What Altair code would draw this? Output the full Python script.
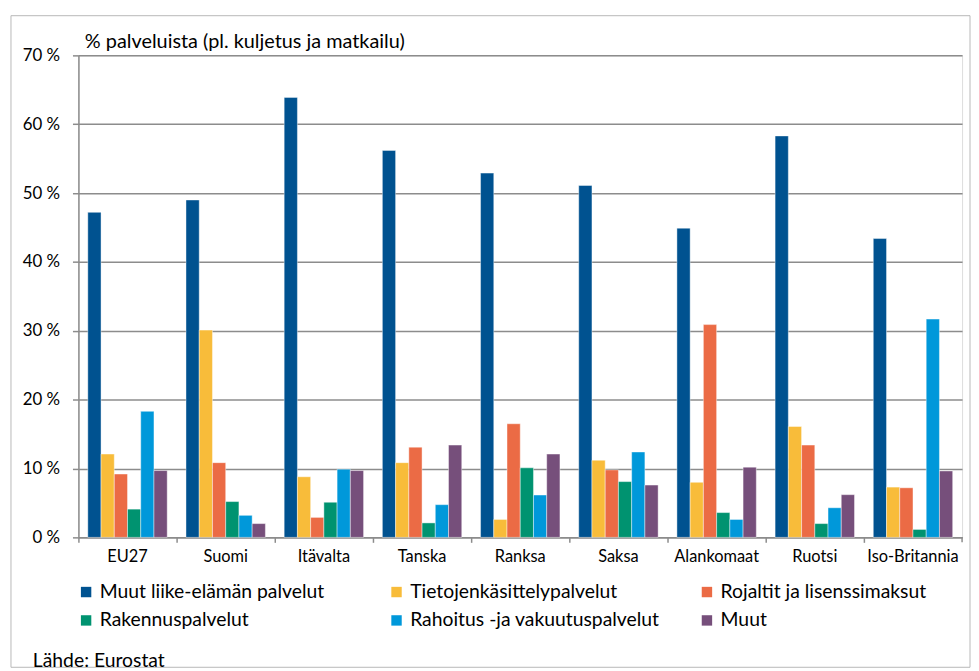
import altair as alt
import pandas as pd

countries = ["EU27", "Suomi", "Itävalta", "Tanska", "Ranksa", "Saksa",
             "Alankomaat", "Ruotsi", "Iso-Britannia"]
series = ["Muut liike-elämän palvelut", "Tietojenkäsittelypalvelut",
          "Rojaltit ja lisenssimaksut", "Rakennuspalvelut",
          "Rahoitus -ja vakuutuspalvelut", "Muut"]
colors = ["#005290", "#F8BC3A", "#EB6B45", "#009370", "#0098DA", "#764F7B"]

muut_liike = [47.2, 49.0, 63.9, 56.2, 52.9, 51.1, 44.9, 58.3, 43.4]
tieto = [12.1, 30.1, 8.8, 10.85, 2.6, 11.2, 8.0, 16.1, 7.3]
rojaltit = [9.2, 10.85, 2.9, 13.1, 16.5, 9.8, 30.9, 13.4, 7.2]
rakennus = [4.1, 5.2, 5.1, 2.1, 10.1, 8.1, 3.6, 2.0, 1.15]
rahoitus = [18.3, 3.2, 9.9, 4.75, 6.15, 12.4, 2.6, 4.3, 31.7]
muut = [9.7, 2.0, 9.7, 13.4, 12.1, 7.6, 10.2, 6.2, 9.65]

values = [muut_liike, tieto, rojaltit, rakennus, rahoitus, muut]
rows = []
for s, vals in zip(series, values):
    for c, v in zip(countries, vals):
        rows.append({"maa": c, "sarja": s, "arvo": v})
df = pd.DataFrame(rows)

FONT = "Lato"
GRAY = "#8c8c8c"

bars = alt.Chart(df).mark_bar(stroke="white", strokeWidth=0.6, strokeOpacity=0.7).encode(
    x=alt.X("maa:N", sort=countries,
            scale=alt.Scale(paddingInner=0, paddingOuter=0),
            axis=alt.Axis(title=None, bandPosition=0, labelAngle=0,
                          labelFontSize=16.5, labelColor="black", labelPadding=6,
                          tickSize=5, tickColor=GRAY, domainColor=GRAY,
                          domainWidth=1.5, tickWidth=1.5, labelFont=FONT)),
    xOffset=alt.XOffset("sarja:N", sort=series,
                        scale=alt.Scale(paddingInner=0, paddingOuter=0.71)),
    y=alt.Y("arvo:Q", scale=alt.Scale(domain=[0, 70], nice=False),
            axis=alt.Axis(values=list(range(0, 80, 10)),
                          labelExpr="datum.value + ' %'",
                          title="% palveluista (pl. kuljetus ja matkailu)",
                          titleAngle=0, titleX=6, titleY=-8, titleAlign="left",
                          titleBaseline="alphabetic", titleFontSize=20,
                          titleFontWeight="normal", titleColor="black",
                          titleFont=FONT,
                          labelFontSize=17, labelColor="black", labelPadding=13,
                          labelFont=FONT,
                          grid=True, gridColor=GRAY, gridWidth=1.5,
                          tickSize=6, tickColor=GRAY, tickWidth=1.5,
                          domainColor=GRAY, domainWidth=1.5)),
    color=alt.Color("sarja:N", sort=series,
                    scale=alt.Scale(domain=series, range=colors),
                    legend=alt.Legend(orient="none", legendX=-2, legendY=531,
                                      direction="horizontal", columns=3,
                                      gridAlign="all", columnPadding=37,
                                      rowPadding=8, title=None,
                                      symbolType="square", symbolSize=110,
                                      symbolStrokeWidth=0, labelFontSize=19.5,
                                      labelColor="black", labelFont=FONT,
                                      labelLimit=400, symbolOffset=0,
                                      labelOffset=4)),
)

frame_df = pd.DataFrame({"a": [0]})
frame = alt.Chart(frame_df).mark_rect(fill="transparent", stroke="#b8b8b8",
                                      strokeWidth=1).encode(
    x=alt.value(-68), x2=alt.value(899), y=alt.value(-40), y2=alt.value(617))

end_tick = alt.Chart(frame_df).mark_rule(color=GRAY, strokeWidth=1.5).encode(
    x=alt.value(891), y=alt.value(486), y2=alt.value(491))

source = alt.Chart(frame_df).mark_text(align="left", baseline="alphabetic",
                                       fontSize=19.5, font=FONT, color="black").encode(
    x=alt.value(-46), y=alt.value(617), text=alt.value("Lähde: Eurostat"))

chart = alt.layer(frame, bars, end_tick, source).properties(
    width=891, height=486,
    padding={"left": 2, "top": 4, "right": 0, "bottom": 0},
).configure_view(stroke=None).configure(font=FONT)

chart.save("out.html", embed_options={"renderer": "svg", "actions": False})
